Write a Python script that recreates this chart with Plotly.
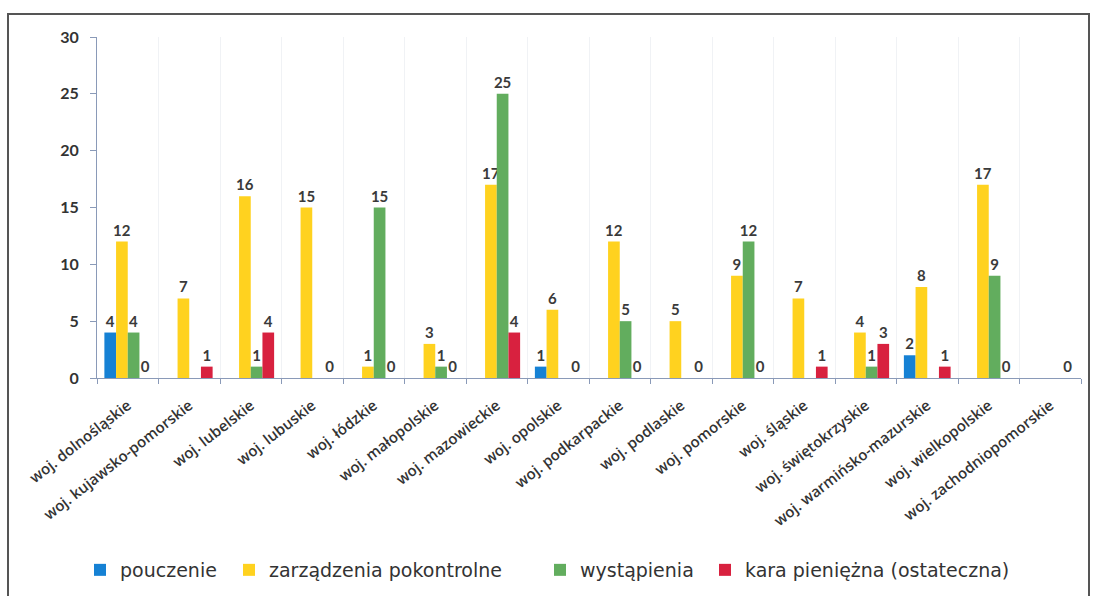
import plotly.graph_objects as go

categories = [
    "woj. dolnośląskie", "woj. kujawsko-pomorskie", "woj. lubelskie", "woj. lubuskie",
    "woj. łódzkie", "woj. małopolskie", "woj. mazowieckie", "woj. opolskie",
    "woj. podkarpackie", "woj. podlaskie", "woj. pomorskie", "woj. śląskie",
    "woj. świętokrzyskie", "woj. warmińsko-mazurskie", "woj. wielkopolskie",
    "woj. zachodniopomorskie",
]
pouczenie = [4, None, None, None, None, None, None, 1, None, None, None, None, None, 2, None, None]
zarzadzenia = [12, 7, 16, 15, 1, 3, 17, 6, 12, 5, 9, 7, 4, 8, 17, None]
wystapienia = [4, None, 1, None, 15, 1, 25, None, 5, None, 12, None, 1, None, 9, None]
kara = [0, 1, 4, 0, 0, 0, 4, 0, 0, 0, 0, 1, 3, 1, 0, 0]

series_names = ["pouczenie", "zarządzenia pokontrolne", "wystąpienia", "kara pieniężna (ostateczna)"]
series_values = [pouczenie, zarzadzenia, wystapienia, kara]
series_colors = ["#1681D4", "#FFD21F", "#62AD5E", "#D8213F"]
legend_text_x = [118, 267, 578, 743]  # pixel x where each legend label starts

FONT = "Lato"
W, H = 1093, 596
L, R, T, B = 97, 12, 37, 218
pw, ph = W - L - R, H - T - B


def px(x):
    return (x - L) / pw


def py(y):
    return (H - B - y) / ph


fig = go.Figure()
legend_ids = ["legend", "legend2", "legend3", "legend4"]
for name, vals, col, lid in zip(series_names, series_values, series_colors, legend_ids):
    fig.add_trace(go.Bar(
        x=categories, y=vals, name=name, marker_color=col, marker_line_width=0,
        text=[("" if v is None else str(v)) for v in vals],
        textposition="outside", cliponaxis=False, constraintext="none",
        textfont=dict(family=FONT, size=15, color="#3a3a3a", weight="bold"),
        legend=lid,
    ))

legend_layout = {}
for lid, tx in zip(legend_ids, legend_text_x):
    legend_layout[lid] = dict(
        orientation="h", x=px(tx - 38), xanchor="left", y=py(570), yanchor="middle",
        font=dict(family="DejaVu Sans", size=19, color="#333333"), itemwidth=30,
        bgcolor="rgba(0,0,0,0)",
    )

fig.update_layout(
    width=W, height=H,
    margin=dict(l=L, r=R, t=T, b=B, autoexpand=False),
    paper_bgcolor="white", plot_bgcolor="white",
    barmode="group", bargap=0.24, bargroupgap=0,
    font=dict(family=FONT, color="#333333"),
    showlegend=True,
    xaxis=dict(
        tickangle=-38, tickson="boundaries", ticks="outside", ticklen=5,
        tickcolor="#8A9AB8", showline=True, linecolor="#8A9AB8", linewidth=1,
        showgrid=True, gridcolor="#F0F2F5", gridwidth=1, ticklabelstandoff=12,
        tickfont=dict(family="Open Sans", size=15, color="#333333", weight=600),
    ),
    yaxis=dict(
        range=[0, 30], dtick=5, ticks="outside", ticklen=6, tickcolor="#8A9AB8",
        showline=True, linecolor="#8A9AB8", linewidth=1, showgrid=False, zeroline=False,
        ticklabelstandoff=8,
        tickfont=dict(family=FONT, size=16, color="#333333", weight="bold"),
    ),
    shapes=[dict(type="rect", xref="paper", yref="paper",
                 x0=px(8), x1=px(1089), y0=py(14), y1=py(605),
                 line=dict(color="#555555", width=2), layer="below")],
    **legend_layout,
)

fig.write_html("out.html", config={"displayModeBar": False},
               post_script="document.body.style.margin='0';")
